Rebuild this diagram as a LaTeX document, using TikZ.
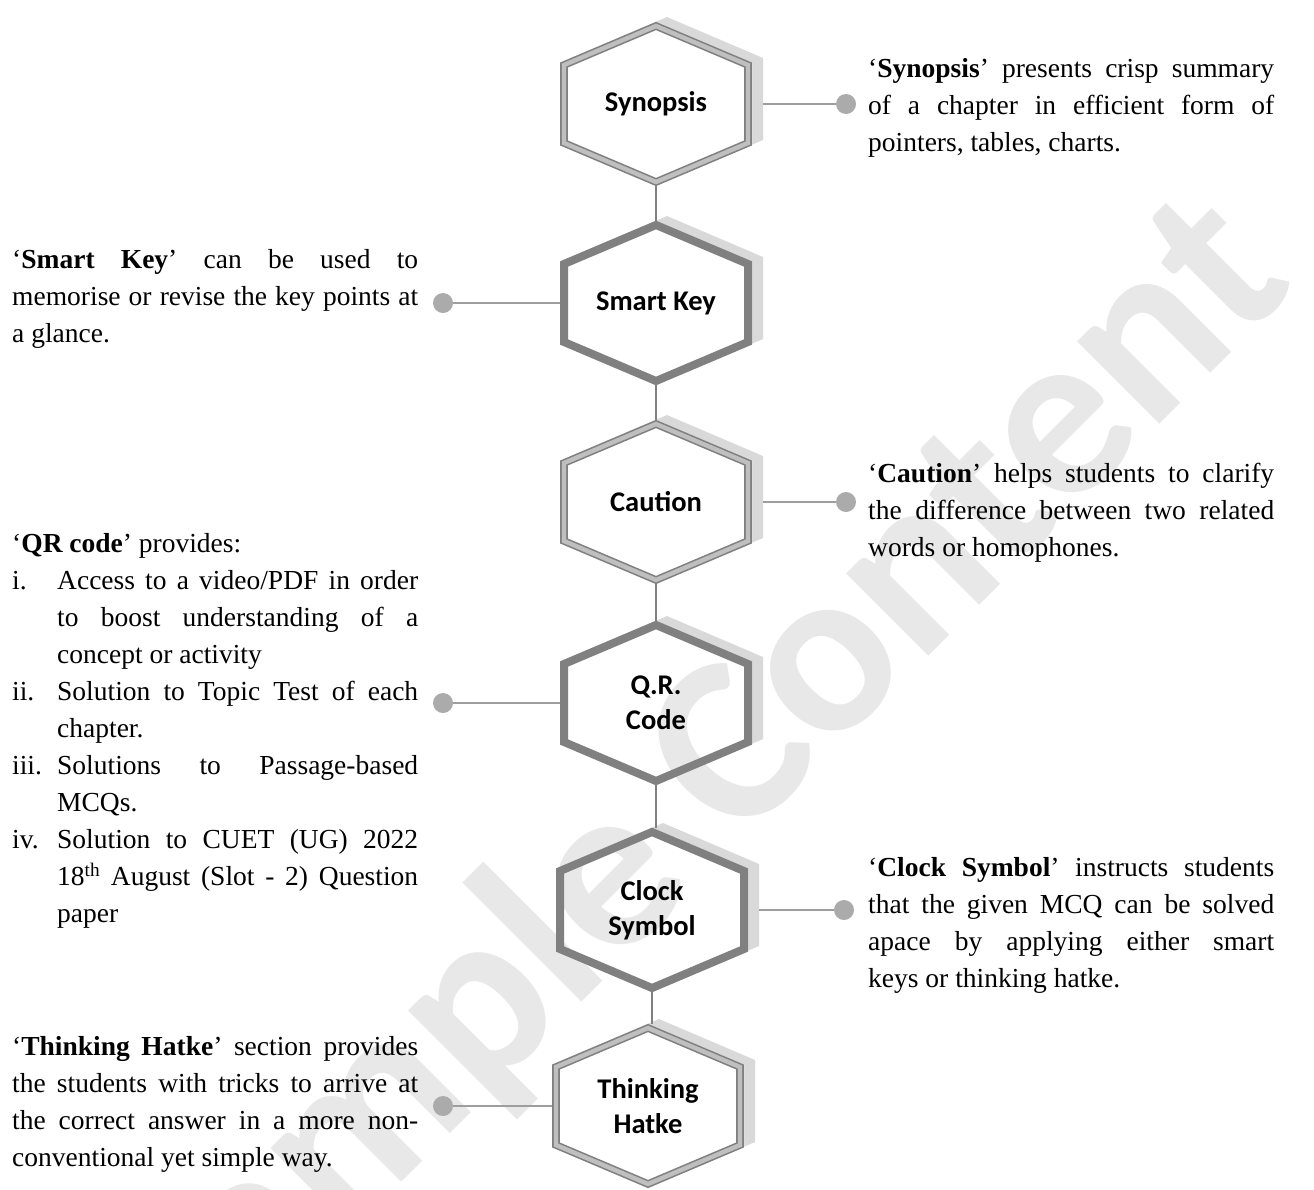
\documentclass[tikz,border=0pt]{standalone}
\usepackage{fontspec}
\setmainfont{Liberation Serif}
\newfontfamily\hexfont{Carlito}
\setlength\parindent{0pt}

\tikzset{
  hexshadow/.style={fill=black!15},
  hexdouble/.style={draw=black!50, line width=1.6pt, double=black!25, double distance=4.4pt, line join=miter},
  hexthick/.style={draw=black!50, line width=8pt, line join=miter},
  hexlabel/.style={minimum width=192pt, minimum height=164pt, inner sep=0pt, align=center,
    font=\hexfont\bfseries\fontsize{28.5}{35}\selectfont},
  link/.style={black!50, line width=1.8pt},
  arm/.style={black!38, line width=1.8pt},
  dot/.style={circle, fill=black!33, inner sep=0pt, minimum size=20pt},
  note/.style={text width=406pt, inner sep=0pt, align=justify,
    font=\fontsize{27.5}{37}\selectfont},
  stamp/.style={text=black!9, font=\hexfont\bfseries\fontsize{240}{240}\selectfont},
}

\newcommand{\itm}[1]{\par\noindent\hangindent=45pt\hangafter=1\makebox[45pt][l]{#1}}

\begin{document}
\begin{tikzpicture}[x=1pt, y=-1pt]

\useasboundingbox (0,0) rectangle (1314,1189);

% shadows and white faces
\foreach \x/\y in {656/104, 656/303, 656/502, 656/703, 652/910, 648/1106} {
  \fill[hexshadow] (\x+11,\y-87) -- ++(96,41) -- ++(0,82) -- ++(-96,41) -- ++(-96,-41) -- ++(0,-82) -- cycle;
  \fill[white] (\x,\y-82) -- ++(96,41) -- ++(0,82) -- ++(-96,41) -- ++(-96,-41) -- ++(0,-82) -- cycle;
}

\node[stamp, rotate=45] (wm) at (692,800) {Sample Content};

% hexagons
\foreach \n/\x/\y/\sty/\txt in {syn/656/104/hexdouble/Synopsis, key/656/303/hexthick/Smart Key,
    cau/656/502/hexdouble/Caution, qr/656/703/hexthick/Q.R.\\Code,
    clk/652/910/hexthick/Clock\\Symbol, thk/648/1106/hexdouble/Thinking\\Hatke} {
  \draw[\sty] (\x,\y-78) -- ++(92,39) -- ++(0,78) -- ++(-92,39) -- ++(-92,-39) -- ++(0,-78) -- cycle;
  \node[hexlabel] (\n) at (\x,\y) {\txt};
}

\begin{scope}[link]
\draw (syn.south) -- (key.north);
\draw (key.south) -- (cau.north);
\draw (cau.south) -- (qr.north);
\draw (qr.south) -- (qr.south |- clk.north);
\draw (clk.south) -- (clk.south |- thk.north);
\end{scope}

\node[dot] (syndot) at (846,104) {};
\node[dot] (keydot) at (443,303) {};
\node[dot] (caudot) at (846,502) {};
\node[dot] (qrdot) at (443,703) {};
\node[dot] (clkdot) at (844,910) {};
\node[dot] (thkdot) at (443,1106) {};

\begin{scope}[arm]
\draw[shorten <=11pt] (syn.east) -- (syndot);
\draw (key.west) -- (keydot);
\draw[shorten <=11pt] (cau.east) -- (caudot);
\draw (qr.west) -- (qrdot);
\draw[shorten <=11pt] (clk.east) -- (clkdot);
\draw (thk.west) -- (thkdot);
\end{scope}

\node[note, anchor=west] (synnote) at (868,108) {‘\textbf{Synopsis}’ presents crisp summary\linebreak
  of a chapter in efficient form of\linebreak pointers, tables, charts.};
\node[note, anchor=west] (keynote) at (12,299) {‘\textbf{Smart Key}’ can be used to\linebreak
  memorise or revise the key points at\linebreak a glance.};
\node[note, anchor=west] (caunote) at (868,513) {‘\textbf{Caution}’ helps students to clarify\linebreak
  the difference between two related\linebreak words or homophones.};
\node[note, anchor=west] (qrnote) at (12,731) {‘\textbf{QR code}’ provides:
  \itm{i.}Access to a video/PDF in order\linebreak to boost understanding of a\linebreak concept or activity
  \itm{ii.}Solution to Topic Test of each\linebreak chapter.
  \itm{iii.}Solutions to Passage-based\linebreak MCQs.
  \itm{iv.}Solution to CUET (UG) 2022\linebreak 18\textsuperscript{th} August (Slot - 2) Question\linebreak paper\par};
\node[note, anchor=west] (clknote) at (868,925) {‘\textbf{Clock Symbol}’ instructs students\linebreak
  that the given MCQ can be solved\linebreak apace by applying either smart\linebreak keys or thinking hatke.};
\node[note, anchor=west] (thknote) at (12,1104) {‘\textbf{Thinking Hatke}’ section provides\linebreak
  the students with tricks to arrive at\linebreak the correct answer in a more non-\linebreak
  conventional yet simple way.};

\end{tikzpicture}
\end{document}
